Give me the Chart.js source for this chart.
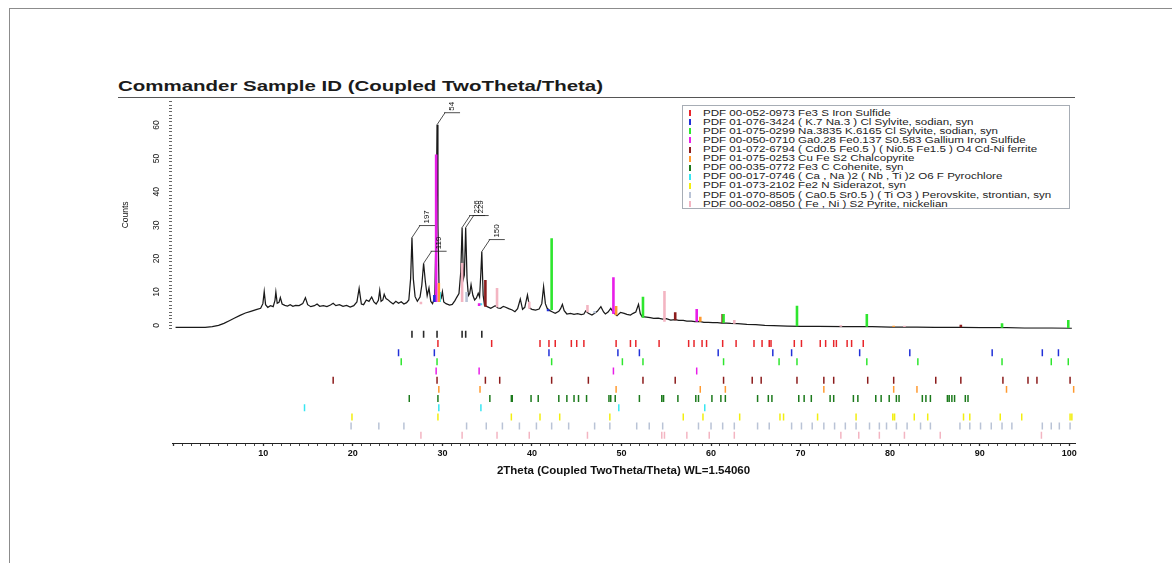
<!DOCTYPE html>
<html>
<head>
<meta charset="utf-8">
<title>Commander Sample ID</title>
<script src="https://cdn.jsdelivr.net/npm/chart.js@4.4.1/dist/chart.umd.min.js"></script>
<style>
  html, body { margin: 0; padding: 0; background: #fff; }
  body { width: 1172px; height: 563px; position: relative; overflow: hidden; font-family: "Liberation Sans", Arial, sans-serif; }
  #frame { position: absolute; left: 9px; top: 8px; width: 1180px; height: 570px; border-top: 1px solid #8c8c8c; border-left: 1px solid #8c8c8c; }
  #title { position: absolute; left: 118px; top: 78px; font-size: 15.5px; line-height: 15.5px; font-weight: bold; color: #1b1b1b; white-space: nowrap; transform: scaleX(1.32); transform-origin: left top; }
  #rule { position: absolute; left: 118px; top: 97px; width: 957px; border-top: 1px solid #555; }
  #wrap { position: absolute; left: 100px; top: 95px; width: 990px; height: 386px; }
  #legend { position: absolute; left: 682px; top: 105px; width: 386px; height: 102px; border: 1px solid #a7adb5; background: #fff; z-index: 2; }
  .row { position: absolute; left: 0; height: 9px; width: 380px; }
  .mark { position: absolute; left: 6px; top: 1.5px; width: 2px; height: 6px; }
  .txt { position: absolute; left: 20px; top: 0; font-size: 8.5px; line-height: 9px; color: #222; white-space: nowrap; transform: scaleX(1.36); transform-origin: left top; }
</style>
</head>
<body>
<div id="frame"></div>
<div id="title">Commander Sample ID (Coupled TwoTheta/Theta)</div>
<div id="rule"></div>
<div id="wrap"><canvas id="xrdChart"></canvas></div>
<div id="legend"></div>
<script>
// measured pattern (2theta in degrees, counts)
const twoTheta = [0.2, 2, 3.5, 4.3, 5.0, 5.6, 6.2, 6.8, 7.4, 8.0, 8.6, 9.2, 9.7, 9.95, 10.1, 10.25, 10.5, 10.8, 11.1, 11.3, 11.4, 11.55, 11.75, 11.9, 12.1, 12.4, 12.7, 13.0, 13.3, 13.6, 14.0, 14.4, 14.7, 14.95, 15.3, 15.7, 16.0, 16.3, 16.7, 17.1, 17.5, 17.8, 18.1, 18.5, 18.9, 19.3, 19.7, 20.1, 20.45, 20.7, 20.95, 21.2, 21.5, 21.8, 22.1, 22.35, 22.6, 22.85, 23.0, 23.15, 23.35, 23.5, 23.7, 23.9, 24.2, 24.5, 24.8, 25.1, 25.4, 25.7, 26.0, 26.25, 26.45, 26.6, 26.75, 26.95, 27.2, 27.5, 27.7, 27.9, 28.1, 28.3, 28.5, 28.7, 28.9, 29.15, 29.3, 29.4, 29.5, 29.65, 29.85, 30.0, 30.15, 30.4, 30.8, 31.1, 31.4, 31.6, 31.85, 32.05, 32.2, 32.35, 32.45, 32.6, 32.75, 32.9, 33.05, 33.2, 33.4, 33.6, 33.8, 34.0, 34.15, 34.3, 34.4, 34.55, 34.7, 35.0, 35.4, 35.7, 35.9, 36.2, 36.5, 36.8, 37.0, 37.4, 37.8, 38.1, 38.4, 38.7, 38.95, 39.2, 39.5, 39.75, 40.0, 40.4, 40.8, 41.1, 41.3, 41.5, 41.7, 42.0, 42.3, 42.6, 43.0, 43.2, 43.4, 43.6, 43.9, 44.3, 44.7, 45.1, 45.5, 45.8, 46.0, 46.3, 46.7, 47.0, 47.3, 47.7, 48.0, 48.2, 48.5, 48.8, 49.1, 49.5, 49.9, 50.3, 50.6, 51.0, 51.3, 51.6, 51.9, 52.1, 52.3, 52.8, 53.2, 53.6, 54.1, 54.6, 55.0, 55.5, 56.0, 56.4, 56.9, 57.3, 57.8, 58.2, 58.7, 59.2, 59.7, 60.2, 60.7, 61.2, 61.7, 62.2, 63.0, 64.0, 65.0, 66.0, 67.0, 68.5, 70, 72, 75, 78, 80, 83, 85, 88, 90, 93, 95, 98, 100.3];
const counts = [-0.6, -0.6, -0.6, -0.4, 0.0, 0.6, 1.4, 2.2, 3.0, 3.7, 4.2, 4.7, 5.1, 6.5, 10.1, 6.2, 5.4, 5.9, 5.6, 7.5, 10.0, 6.6, 6.9, 8.3, 6.4, 6.0, 5.8, 6.2, 5.7, 6.0, 5.9, 6.5, 8.3, 6.2, 5.6, 5.9, 6.4, 5.7, 5.9, 5.6, 6.1, 6.6, 5.9, 6.2, 5.7, 6.0, 5.5, 5.9, 7.0, 11.1, 6.4, 6.2, 7.6, 7.2, 8.5, 7.0, 6.4, 7.5, 10.5, 7.2, 7.6, 9.3, 8.0, 7.7, 7.0, 6.4, 7.2, 6.6, 7.1, 6.4, 6.8, 7.6, 14, 26.3, 14, 8.6, 7.2, 8.5, 12, 18.6, 13, 8.9, 11.2, 7.2, 6.5, 8.5, 30, 60.1, 30, 7.5, 8.0, 10.1, 7.0, 6.5, 6.1, 6.3, 7.4, 8.4, 9.5, 16, 29.3, 14, 15, 29.3, 14, 8.9, 9.5, 12.2, 9, 7.6, 8.2, 9.6, 8.5, 16, 22.1, 9, 6.0, 5.6, 5.1, 5.6, 5.9, 5.2, 5.1, 5.7, 5.5, 5.0, 4.6, 4.1, 5.0, 7.9, 4.8, 5.4, 9.1, 5.2, 4.8, 4.6, 4.9, 6.5, 11.6, 6.5, 5.1, 4.4, 4.0, 3.6, 4.2, 5.0, 6.3, 4.4, 3.4, 3.6, 3.3, 3.5, 3.2, 3.4, 4.3, 3.6, 3.1, 3.6, 4.2, 5.6, 4.0, 3.4, 4.0, 5.1, 3.8, 2.9, 3.9, 3.6, 3.3, 3.1, 3.6, 4.0, 6.3, 3.5, 2.6, 2.5, 2.3, 2.1, 2.2, 1.9, 2.0, 1.6, 1.7, 1.5, 1.5, 1.3, 1.3, 1.1, 1.2, 0.9, 0.9, 0.8, 0.8, 0.7, 0.7, 0.6, 0.5, 0.3, 0.2, 0.0, -0.1, -0.2, -0.3, -0.3, -0.4, -0.4, -0.5, -0.5, -0.6, -0.6, -0.7, -0.7, -0.8, -0.8, -0.9];

// labelled peaks
const peakPos = [26.6, 27.9, 29.4, 32.2, 32.6, 34.4];
const peakCounts = [26.3, 18.6, 60.1, 29.3, 29.3, 22.1];
const peakLabels = ['197', '119', '54', '226', '229', '150'];

// phases from the legend
const phaseNames = [
  'PDF 00-052-0973 Fe3 S Iron Sulfide',
  'PDF 01-076-3424 ( K.7 Na.3 ) Cl Sylvite, sodian, syn',
  'PDF 01-075-0299 Na.3835 K.6165 Cl Sylvite, sodian, syn',
  'PDF 00-050-0710 Ga0.28 Fe0.137 S0.583 Gallium Iron Sulfide',
  'PDF 01-072-6794 ( Cd0.5 Fe0.5 ) ( Ni0.5 Fe1.5 ) O4 Cd-Ni ferrite',
  'PDF 01-075-0253 Cu Fe S2 Chalcopyrite',
  'PDF 00-035-0772 Fe3 C Cohenite, syn',
  'PDF 00-017-0746 ( Ca , Na )2 ( Nb , Ti )2 O6 F Pyrochlore',
  'PDF 01-073-2102 Fe2 N Siderazot, syn',
  'PDF 01-070-8505 ( Ca0.5 Sr0.5 ) ( Ti O3 ) Perovskite, strontian, syn',
  'PDF 00-002-0850 ( Fe , Ni ) S2 Pyrite, nickelian'
];
const phaseColors = ['#e8262b', '#2130d8', '#2ee62e', '#e81ee8', '#8c1c1c', '#ff9a30', '#1c7a1c', '#38e6f2', '#f2ee10', '#b9c3d6', '#f3b5c2'];

// stick positions of each reference pattern (rows under the plot)
const fe3sLines = [29.5, 35.5, 40.9, 41.9, 42.6, 44.4, 45.0, 45.8, 49.4, 51.0, 51.6, 54.2, 57.5, 58.1, 59.0, 59.5, 61.3, 62.8, 64.8, 65.7, 66.5, 66.7, 69.3, 70.1, 72.2, 72.8, 73.7, 74.0, 75.2, 75.7, 77.0];
const sylviteKLines = [25.1, 29.1, 41.9, 49.6, 52.0, 60.8, 66.9, 69.0, 76.6, 82.2, 91.4, 97.0, 98.8];
const sylviteNaLines = [25.4, 29.4, 42.2, 50.1, 52.4, 61.4, 67.6, 69.6, 77.4, 83.1, 92.5, 98.0, 99.9];
const galliumLines = [29.3, 34.1, 49.1, 58.4];
const ferriteLines = [17.8, 29.4, 34.8, 36.4, 42.2, 46.3, 52.4, 56.0, 61.4, 64.6, 65.6, 69.6, 72.6, 73.7, 77.5, 80.4, 85.1, 87.9, 92.6, 95.4, 96.4, 100.1];
const chalcopyriteLines = [29.6, 34.2, 49.4, 58.8, 61.6, 72.6, 80.4, 83.0, 93.0, 100.5];
const coheniteLines = [26.3, 29.5, 35.3, 37.7, 37.8, 39.9, 40.7, 43.0, 43.9, 44.7, 45.2, 46.1, 48.6, 48.8, 49.3, 52.0, 54.5, 54.7, 56.3, 58.3, 58.6, 60.1, 61.1, 61.6, 65.2, 66.4, 66.8, 69.8, 70.4, 71.2, 73.3, 73.7, 75.9, 76.4, 78.4, 79.0, 79.9, 80.7, 81.0, 83.6, 84.0, 84.5, 86.4, 86.6, 86.9, 87.2, 88.4, 88.7];
const pyrochloreLines = [14.6, 29.6, 34.3, 49.7, 59.3];
const siderazotLines = [19.9, 29.5, 37.7, 40.9, 43.1, 48.7, 56.9, 59.1, 63.2, 67.7, 68.1, 71.9, 76.2, 80.3, 80.5, 82.7, 84.2, 88.2, 88.9, 92.3, 94.7, 100.1, 100.3];
const perovskiteLines = [19.8, 22.9, 25.7, 32.7, 34.9, 36.7, 38.6, 40.5, 42.2, 44.1, 47.0, 48.7, 51.7, 53.1, 54.6, 58.6, 60.0, 61.3, 62.6, 65.2, 66.5, 69.0, 70.1, 71.3, 72.6, 73.8, 75.0, 76.2, 77.7, 78.8, 79.6, 80.7, 81.9, 83.4, 84.5, 87.8, 88.9, 90.1, 91.3, 92.5, 93.6, 97.0, 98.0, 98.9, 100.1];
const pyriteLines = [27.6, 32.2, 36.1, 39.7, 46.2, 54.5, 54.8, 57.3, 59.8, 62.6, 74.5, 76.5, 78.8, 81.6, 85.6, 96.9];

// sticks drawn inside the pattern: phase index, position, bottom and top (counts)
const stickPhase = [1, 1, 2, 2, 2, 2, 2, 2, 2, 3, 3, 3, 3, 4, 4, 4, 4, 5, 5, 5, 5, 7, 7, 9, 9, 10, 10, 10, 10, 10, 10, 10, 10, 10];
const stickPos = [29.1, 41.8, 42.2, 52.4, 61.4, 69.6, 77.4, 92.5, 99.9, 29.3, 34.1, 49.1, 58.4, 34.8, 56.0, 61.3, 87.9, 29.6, 49.4, 58.8, 80.4, 29.7, 34.3, 32.7, 47.0, 27.6, 32.2, 36.1, 39.7, 46.2, 54.8, 62.6, 74.5, 81.6];
const stickBase = [7.0, 4.2, 4.6, 2.3, 0.7, -0.3, -0.4, -0.7, -0.8, 7.0, 5.8, 3.4, 1.1, 5.6, 1.5, 0.7, -0.6, 7.0, 3.0, 1.1, -0.5, 7.0, 6.0, 7.0, 3.6, 6.3, 7.0, 5.4, 5.0, 3.9, 1.1, 0.5, -0.4, -0.5];
const stickTop = [9.1, 4.9, 26.1, 8.6, 3.4, 5.9, 3.4, 0.6, 1.6, 51.2, 6.6, 14.4, 4.9, 13.6, 3.9, 3.4, 0.2, 12.7, 5.8, 2.6, -0.1, 10.0, 6.6, 10.0, 4.3, 7.1, 18.7, 11.2, 7.1, 6.1, 10.3, 1.6, 0.0, -0.1];

const phaseRows = [fe3sLines, sylviteKLines, sylviteNaLines, galliumLines, ferriteLines, chalcopyriteLines, coheniteLines, pyrochloreLines, siderazotLines, perovskiteLines, pyriteLines];
const FONT = '"Liberation Sans", Arial, sans-serif';

// html legend box
const legendBox = document.getElementById('legend');
phaseNames.forEach((name, i) => {
  const row = document.createElement('div');
  row.className = 'row';
  row.style.top = (2.6 + i * 9.1) + 'px';
  row.innerHTML = '<div class="mark" style="background:' + phaseColors[i] + '"></div><div class="txt"></div>';
  row.querySelector('.txt').textContent = name;
  legendBox.appendChild(row);
});

const datasets = [];

// the scan itself
datasets.push({
  label: 'Commander Sample ID',
  data: twoTheta.map((t, i) => ({ x: t, y: counts[i] })),
  borderColor: '#1a1a1a',
  borderWidth: 1.25,
  pointRadius: 0,
  tension: 0,
  yAxisID: 'y',
  order: 5
});

// coloured sticks over the scan, one dataset per phase
phaseNames.forEach((name, p) => {
  const pts = [];
  stickPos.forEach((pos, i) => {
    if (stickPhase[i] !== p) return;
    pts.push({ x: pos, y: stickBase[i] }, { x: pos, y: stickTop[i] }, { x: pos, y: null });
  });
  if (!pts.length) return;
  datasets.push({
    label: name,
    data: pts,
    borderColor: phaseColors[p],
    borderWidth: 2.6,
    borderCapStyle: 'butt',
    pointRadius: 0,
    spanGaps: false,
    yAxisID: 'y',
    order: 1
  });
});

// stick rows under the plot: peak markers first, then one row per phase
[peakPos, ...phaseRows].forEach((row, r) => {
  const pts = [];
  row.forEach(pos => {
    pts.push({ x: pos, y: r - 0.38 }, { x: pos, y: r + 0.38 }, { x: pos, y: null });
  });
  datasets.push({
    label: r === 0 ? 'peaks' : phaseNames[r - 1],
    data: pts,
    borderColor: r === 0 ? '#2a2a2a' : phaseColors[r - 1],
    borderWidth: r === 0 ? 1.6 : 1.5,
    borderCapStyle: 'butt',
    pointRadius: 0,
    spanGaps: false,
    yAxisID: 'ys',
    order: 2
  });
});

// leader lines + rotated numbers on the labelled peaks
const peakLabelPlugin = {
  id: 'peakLabels',
  afterDatasetsDraw(chart) {
    const { ctx, scales: { x, y } } = chart;
    ctx.save();
    ctx.strokeStyle = '#222';
    ctx.lineWidth = 0.8;
    ctx.fillStyle = '#111';
    ctx.font = '8px ' + FONT;
    peakPos.forEach((pos, i) => {
      const px = x.getPixelForValue(pos);
      const py = y.getPixelForValue(peakCounts[i]);
      const ex = px + 8, ey = py - 12;
      ctx.beginPath();
      ctx.moveTo(px, py);
      ctx.lineTo(ex, ey);
      ctx.moveTo(ex - 1, ey);
      ctx.lineTo(ex + 15, ey);
      ctx.stroke();
      ctx.save();
      ctx.translate(ex + 7, ey - 2);
      ctx.rotate(-Math.PI / 2);
      ctx.textAlign = 'left';
      ctx.textBaseline = 'middle';
      ctx.fillText(peakLabels[i], 0, 0);
      ctx.restore();
    });
    ctx.restore();
  }
};

const ctx = document.getElementById('xrdChart').getContext('2d');
const chart = new Chart(ctx, {
  type: 'line',
  data: { datasets: datasets },
  plugins: [peakLabelPlugin],
  options: {
    responsive: true,
    maintainAspectRatio: false,
    animation: false,
    layout: { padding: { top: 6, right: 15, left: 0, bottom: 0 } },
    plugins: {
      legend: { display: false },
      tooltip: { enabled: false }
    },
    scales: {
      x: {
        type: 'linear',
        position: 'bottom',
        min: -0.2,
        max: 100.65,
        grid: {
          drawOnChartArea: false,
          drawTicks: true,
          tickLength: 3,
          tickColor: '#333',
          tickWidth: c => (c.tick && c.tick.value % 10 === 0) ? 1.3 : 0.9
        },
        border: { display: true, color: '#222', width: 1 },
        ticks: {
          stepSize: 1,
          autoSkip: false,
          includeBounds: false,
          maxRotation: 0,
          padding: 2,
          color: '#111',
          font: { family: FONT, size: 9, weight: 'bold' },
          callback: v => (v > 0 && v % 10 === 0) ? String(v) : ''
        },
        title: {
          display: true,
          text: '2Theta (Coupled TwoTheta/Theta) WL=1.54060',
          color: '#111',
          font: { family: FONT, size: 11.5, weight: 'bold' },
          padding: { top: 0, bottom: 3 }
        },
        afterFit: s => { s.height = 38; s.paddingLeft = 0; s.paddingRight = 0; }
      },
      // left boxes get stacked in reverse, so the stick rows are declared first
      ys: {
        type: 'linear',
        position: 'left',
        stack: 'xrd',
        stackWeight: 114.3,
        min: -0.61,
        max: 11.84,
        reverse: true,
        grid: { display: false },
        border: { display: false },
        ticks: { display: false },
        afterFit: s => { s.width = 72; s.paddingTop = 0; s.paddingBottom = 0; }
      },
      y: {
        type: 'linear',
        position: 'left',
        stack: 'xrd',
        stackWeight: 227.7,
        min: -1,
        max: 67.2,
        grid: {
          drawOnChartArea: false,
          drawTicks: true,
          tickLength: 3,
          tickColor: '#555',
          tickWidth: 0.9
        },
        border: { display: false },
        ticks: {
          stepSize: 1,
          autoSkip: false,
          includeBounds: false,
          minRotation: 90,
          maxRotation: 90,
          crossAlign: 'center',
          padding: 8,
          color: '#111',
          font: { family: FONT, size: 8.5 },
          callback: v => (v >= 0 && v % 10 === 0) ? String(v) : ''
        },
        title: {
          display: true,
          text: 'Counts',
          color: '#111',
          font: { family: FONT, size: 8.5 },
          padding: { top: 21, bottom: 0 }
        },
        afterFit: s => { s.width = 72; s.paddingTop = 0; s.paddingBottom = 0; }
      }
    }
  }
});
</script>
</body>
</html>
